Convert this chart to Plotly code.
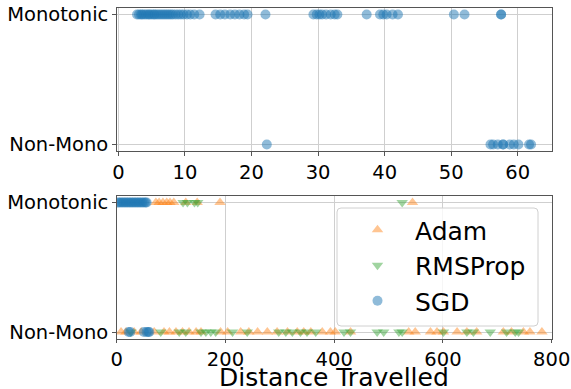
import plotly.graph_objects as go
from plotly.subplots import make_subplots

# ---- data ----
y_labels = ["Non-Mono", "Monotonic"]

top_sgd_mono = [2.8, 3.1, 3.4, 3.6, 3.9, 4.2, 4.5, 4.7, 5.0, 5.3, 5.5, 5.8, 6.1, 6.4, 6.7,
                7.0, 7.3, 7.6, 7.9, 8.2, 8.6, 9.0, 9.4, 9.8, 10.3, 10.8, 11.4, 12.2,
                14.6, 15.3, 16.0, 16.8, 17.5, 18.2, 18.9, 19.4, 22.1,
                29.3, 29.8, 30.2, 30.6, 31.2, 31.9, 32.5, 32.9, 37.3,
                39.3, 39.8, 40.3, 41.2, 42.0, 50.4, 52.0, 57.5, 57.5]
top_sgd_nonmono = [22.3, 55.9, 56.3, 57.0, 57.8, 57.8, 58.8, 59.4, 60.1, 61.7, 62.0]

adam_mono = [72, 78, 85, 92, 98, 105, 127, 148, 190, 544]
rms_mono = [122, 130, 143, 149, 525]
sgd_mono = [2, 5, 8, 11, 14, 17, 20, 23, 26, 29, 32, 35, 38, 41, 44, 47, 50, 53, 55]

adam_nonmono = [8, 17, 32, 45, 69, 87, 97, 109, 121, 133, 146, 155, 191, 204, 228, 243,
                259, 277, 295, 314, 332, 344, 357, 378, 393, 402, 430, 537, 549, 577,
                589, 601, 626, 644, 662, 711, 726, 748, 760, 782]
rms_nonmono = [26, 81, 115, 127, 155, 164, 173, 182, 213, 240, 298, 311, 323, 338, 350,
               366, 418, 430, 479, 491, 519, 525, 601, 644, 656, 687, 717, 733, 739]
sgd_nonmono = [22, 25, 50, 55, 58, 60]

top_xticks = [0, 10, 20, 30, 40, 50, 60]
bottom_xticks = [0, 200, 400, 600, 800]
x_title = "Distance Travelled"

BLUE = "#1f77b4"
ORANGE = "#ff7f0e"
GREEN = "#2ca02c"

W, H = 571, 389

fig = make_subplots(rows=2, cols=1)

fig.add_trace(go.Scatter(x=top_sgd_mono + top_sgd_nonmono,
                         y=[1] * len(top_sgd_mono) + [0] * len(top_sgd_nonmono),
                         mode="markers", showlegend=False,
                         marker=dict(symbol="circle", size=10, color=BLUE, opacity=0.5,
                                     line=dict(width=0))), row=1, col=1)

fig.add_trace(go.Scatter(x=adam_mono + adam_nonmono,
                         y=[1] * len(adam_mono) + [0] * len(adam_nonmono),
                         mode="markers", name="Adam",
                         marker=dict(symbol="triangle-up", size=10, color=ORANGE, opacity=0.45,
                                     line=dict(width=0))), row=2, col=1)
fig.add_trace(go.Scatter(x=rms_mono + rms_nonmono,
                         y=[1] * len(rms_mono) + [0] * len(rms_nonmono),
                         mode="markers", name="RMSProp",
                         marker=dict(symbol="triangle-down", size=10, color=GREEN, opacity=0.45,
                                     line=dict(width=0))), row=2, col=1)
fig.add_trace(go.Scatter(x=sgd_mono + sgd_nonmono,
                         y=[1] * len(sgd_mono) + [0] * len(sgd_nonmono),
                         mode="markers", name="SGD",
                         marker=dict(symbol="circle", size=10, color=BLUE, opacity=0.5,
                                     line=dict(width=0))), row=2, col=1)

axis_common = dict(showgrid=True, gridcolor="#cfcfcf", gridwidth=1, zeroline=False,
                   showline=True, linecolor="#555555", linewidth=1, mirror=True,
                   ticks="outside", ticklen=3.5, tickcolor="#555555", automargin=False,
                   tickfont=dict(family="DejaVu Sans", size=19.5, color="black"))

fig.update_xaxes(axis_common)
fig.update_yaxes(axis_common)

xdom = [0.2044, 0.9662]
fig.update_xaxes(domain=xdom, range=[-0.25, 65.1], tickvals=top_xticks, row=1, col=1)
fig.update_xaxes(domain=xdom, range=[0, 800], tickvals=bottom_xticks, row=2, col=1)
fig.update_yaxes(domain=[0.6118, 0.9794], range=[-0.05, 1.05], tickvals=[0, 1],
                 ticktext=y_labels, row=1, col=1)
fig.update_yaxes(domain=[0.1298, 0.4961], range=[-0.05, 1.05], tickvals=[0, 1],
                 ticktext=y_labels, row=2, col=1)

fig.add_annotation(text=x_title, xref="paper", yref="paper",
                   x=(xdom[0] + xdom[1]) / 2, y=1 - 377.5 / H,
                   xanchor="center", yanchor="middle", showarrow=False,
                   font=dict(family="DejaVu Sans", size=25, color="black"))

# legend frame (rounded, semi-transparent like the reference)
x0, x1 = 337 / W, 538 / W
y0, y1 = 1 - 326 / H, 1 - 208 / H
rx, ry = 4 / W, 4 / H
path = (f"M {x0+rx},{y1} L {x1-rx},{y1} Q {x1},{y1} {x1},{y1-ry} "
        f"L {x1},{y0+ry} Q {x1},{y0} {x1-rx},{y0} L {x0+rx},{y0} "
        f"Q {x0},{y0} {x0},{y0+ry} L {x0},{y1-ry} Q {x0},{y1} {x0+rx},{y1} Z")
fig.add_shape(type="path", path=path, xref="paper", yref="paper",
              fillcolor="rgba(255,255,255,0.8)", line=dict(color="#d0d0d0", width=1),
              layer="above")

fig.update_layout(
    width=W, height=H,
    margin=dict(l=0, r=0, t=0, b=0),
    paper_bgcolor="white", plot_bgcolor="white",
    font=dict(family="DejaVu Sans", color="black"),
    legend=dict(x=340 / W, y=1 - 207 / H, xanchor="left", yanchor="top",
                bgcolor="rgba(0,0,0,0)", borderwidth=0,
                font=dict(family="DejaVu Sans", size=25, color="black"),
                itemwidth=65),
)

fig.write_html("out.html", config={"displayModeBar": False},
               post_script="document.body.style.margin='0';document.body.style.overflow='hidden';")
